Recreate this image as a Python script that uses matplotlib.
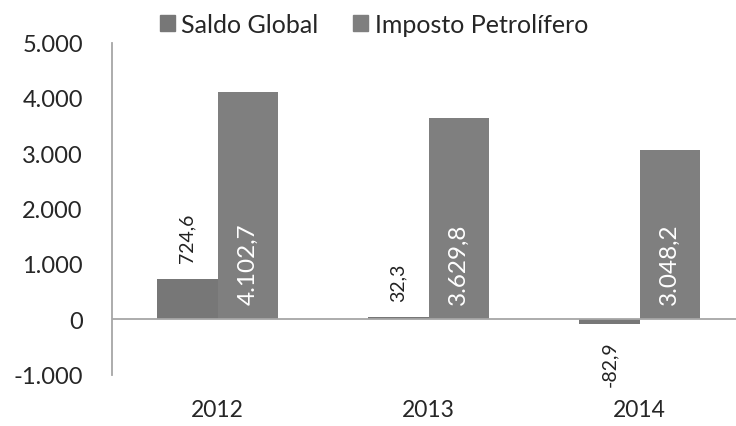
"""Saldo Global vs Imposto Petrolífero — grouped bar chart."""

import matplotlib
matplotlib.use("Agg")
import matplotlib.pyplot as plt
import numpy as np
from matplotlib.patches import Patch
from matplotlib.ticker import FuncFormatter

years = ["2012", "2013", "2014"]
saldo_global = [724.6, 32.3, -82.9]
imposto_petrolifero = [4102.7, 3629.8, 3048.2]
series_names = ["Saldo Global", "Imposto Petrolífero"]
y_ticks = [-1000, 0, 1000, 2000, 3000, 4000, 5000]


def pt_number(v, decimals=0):
    """Format with '.' thousands and ',' decimal separator."""
    s = f"{v:,.{decimals}f}"
    return s.replace(",", "X").replace(".", ",").replace("X", ".")


plt.rcParams["font.family"] = ["Lato", "DejaVu Sans"]

fig = plt.figure(figsize=(7.36, 4.27), dpi=100)
ax = fig.add_axes([112 / 736, 51.5 / 427, 633 / 736, 332 / 427])

x = np.arange(len(years))
w = 1 / 3.5
c_saldo = "#777777"
c_imposto = "#7f7f7f"

b1 = ax.bar(x - w / 2, saldo_global, w, color=c_saldo)
b2 = ax.bar(x + w / 2, imposto_petrolifero, w, color=c_imposto)

# Saldo labels outside end, dark
for rect, val in zip(b1, saldo_global):
    cx = rect.get_x() + rect.get_width() / 2
    off = 12 if val >= 0 else -12
    ax.annotate(pt_number(val, 1), (cx, val), xytext=(0, off),
                textcoords="offset points", rotation=90, ha="center",
                va="bottom" if val >= 0 else "top", fontsize=14, color="#222222")

# Imposto labels inside base, white
for rect, val in zip(b2, imposto_petrolifero):
    cx = rect.get_x() + rect.get_width() / 2
    ax.annotate(pt_number(val, 1), (cx, 0), xytext=(0, 11),
                textcoords="offset points", rotation=90, ha="center",
                va="bottom", fontsize=17.5, color="white")

ax.axhline(0, color="#a6a6a6", linewidth=1.3, zorder=3)
ax.set_xlim(-0.5, 2.5)
ax.set_ylim(-1000, 5000)
ax.set_yticks(y_ticks)
ax.yaxis.set_major_formatter(FuncFormatter(lambda v, p: pt_number(v)))
ax.set_xticks(x)
ax.set_xticklabels(years)

for s in ["top", "right", "bottom"]:
    ax.spines[s].set_visible(False)
ax.spines["left"].set_color("#a6a6a6")
ax.spines["left"].set_linewidth(1.3)
ax.tick_params(axis="y", length=0, pad=21, labelsize=17, labelcolor="#262626")
ax.tick_params(axis="x", length=0, pad=18, labelsize=16.5, labelcolor="#262626")

handles = [Patch(color=c_saldo), Patch(color=c_imposto)]
fig.legend(handles, series_names, loc="upper center", bbox_to_anchor=(0.508, 1.02),
           ncol=2, frameon=False, fontsize=18, handlelength=0.6, handleheight=0.6,
           handletextpad=0.25, columnspacing=1.4, labelcolor="#262626")

fig.savefig("out.png", dpi=100)
plt.close(fig)
